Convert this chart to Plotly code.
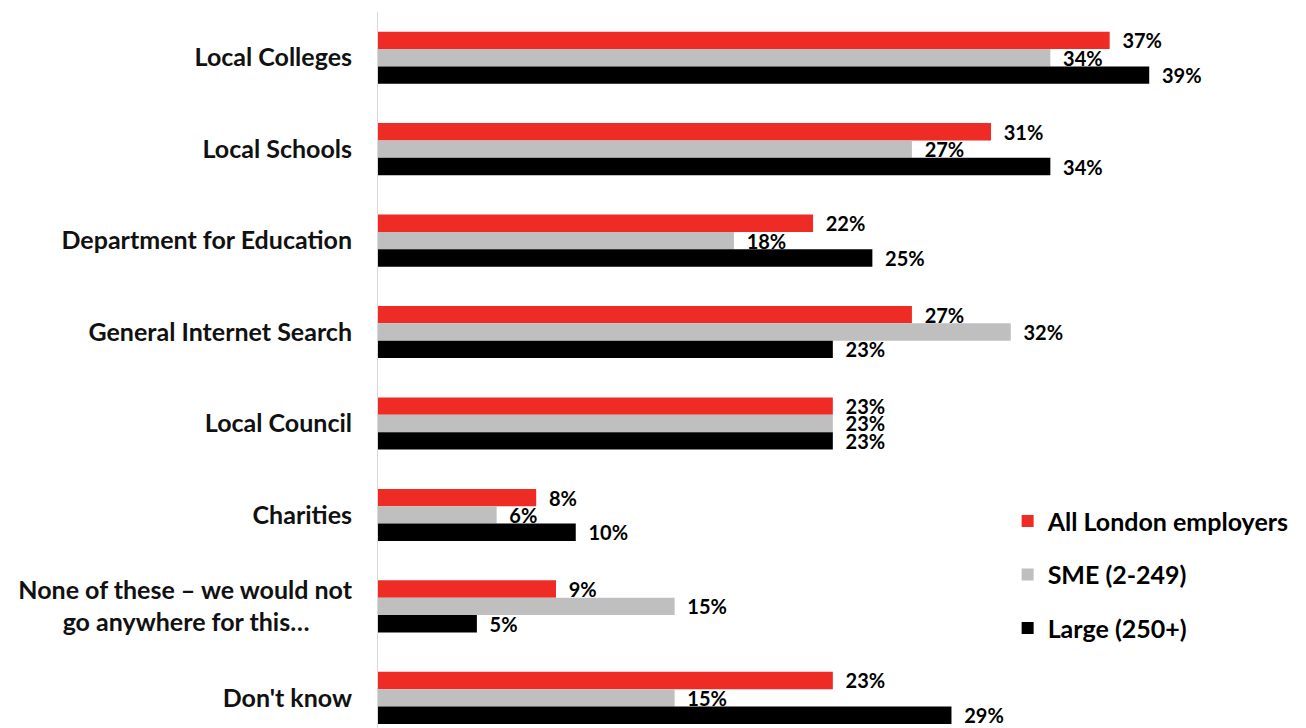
import plotly.graph_objects as go

categories = [
    "Local Colleges",
    "Local Schools",
    "Department for Education",
    "General Internet Search",
    "Local Council",
    "Charities",
    "None of these – we would not<br>go anywhere for this…" + "\u00a0" * 7,
    "Don't know",
]
all_london = [37, 31, 22, 27, 23, 8, 9, 23]
sme = [34, 27, 18, 32, 23, 6, 15, 15]
large = [39, 34, 25, 23, 23, 10, 5, 29]

series = [
    ("All London employers", all_london, "#EE2B24"),
    ("SME (2-249)", sme, "#BFBFBF"),
    ("Large (250+)", large, "#000000"),
]

FONT = "Lato, 'Open Sans', sans-serif"

fig = go.Figure()
for i, (name, vals, color) in enumerate(series):
    fig.add_trace(go.Bar(
        y=categories, x=vals, name=name, orientation="h",
        marker=dict(color=color, line=dict(width=0)),
        text=vals,
        texttemplate="\u00a0\u00a0%{x}%",
        textposition="outside",
        constraintext="none",
        textfont=dict(family=FONT, size=20, color="#000000", weight="bold"),
        cliponaxis=False,
        legendgroup=f"g{i}",
    ))

fig.update_layout(
    width=1306, height=728,
    margin=dict(l=370, r=145, t=4, b=8),
    paper_bgcolor="white", plot_bgcolor="white",
    barmode="group", bargap=0.43, bargroupgap=0,
    font=dict(family=FONT, color="#000000"),
    showlegend=True,
    legend=dict(
        x=0.796, y=0.321, xanchor="left", yanchor="top",
        font=dict(family=FONT, size=25, color="#000000", weight="bold"),
        bgcolor="rgba(0,0,0,0)", traceorder="grouped", tracegroupgap=18,
        itemwidth=30,
    ),
    uniformtext=dict(mode=False),
)
fig.update_xaxes(range=[0, 40], visible=False, showgrid=False, zeroline=False)
fig.update_yaxes(
    range=[7.33, -0.5], showline=True, linecolor="#D9D9D9", linewidth=1,
    showgrid=False, zeroline=False, ticks="", ticklabelstandoff=20,
    tickfont=dict(family=FONT, size=25, color="#111111", weight="bold"),
)

fig.write_html("out.html")
